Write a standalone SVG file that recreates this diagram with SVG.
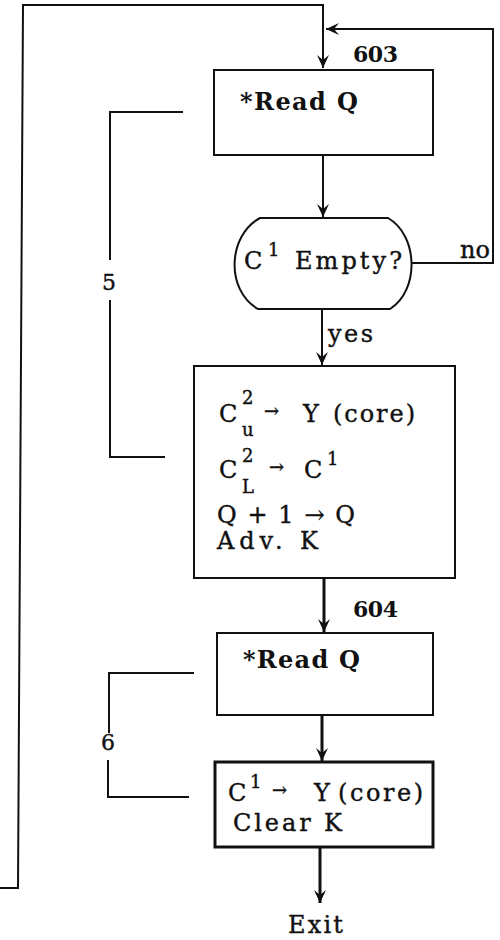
<svg xmlns="http://www.w3.org/2000/svg" width="500" height="940" viewBox="0 0 500 940">
<style>
  .ln{fill:none;stroke:#111;stroke-width:2;stroke-linejoin:miter}
  .thk{stroke-width:3}
  .box{fill:#fff;stroke:#111;stroke-width:2}
  .t{font-family:"DejaVu Serif","Liberation Serif",serif;font-size:24px;fill:#111;stroke:#111;stroke-width:0.4}
  .b{font-weight:bold;stroke-width:0}
  .s{font-size:18px}
  .ar{font-size:18px}
</style>
<defs>
  <marker id="ah" viewBox="-14 -7 15 14" refX="0" refY="0" markerWidth="15" markerHeight="14" markerUnits="userSpaceOnUse" orient="auto">
    <path d="M0,0 L-13,-6 L-8,0 L-13,6 Z" fill="#111"/>
  </marker>
</defs>
<rect width="500" height="940" fill="#fff"/>
<g id="connectors">
  <polyline class="ln" points="0,888 18,888 23,5 323,5 323,68" marker-end="url(#ah)"/>
  <polyline class="ln" points="412,263 493,263 493,29 326,29" marker-end="url(#ah)"/>
  <line class="ln" x1="323" y1="155" x2="323" y2="217" marker-end="url(#ah)"/>
  <line class="ln" x1="322" y1="309" x2="322" y2="365" marker-end="url(#ah)"/>
  <line class="ln thk" x1="324" y1="578" x2="324" y2="632" marker-end="url(#ah)"/>
  <line class="ln thk" x1="322" y1="715" x2="322" y2="761" marker-end="url(#ah)"/>
  <line class="ln thk" x1="320" y1="847" x2="320" y2="903" marker-end="url(#ah)"/>
  <path class="ln" d="M183,112 H110 V260 M110,300 V457 H165"/>
  <path class="ln" d="M194,673 H109 V733 M108,760 V797 H189"/>
  <text class="t b" x="353" y="62" textLength="45" style="font-size:22px">603</text>
  <text class="t" x="460" y="258" textLength="30">no</text>
  <text class="t" x="328" y="342" textLength="45">yes</text>
  <text class="t b" x="353" y="617" textLength="45" style="font-size:22px">604</text>
  <text class="t" x="102" y="290" style="font-size:22px">5</text>
  <text class="t" x="101" y="750" style="font-size:22px">6</text>
</g>
<g id="read1">
  <rect class="box" x="214" y="70" width="219" height="85"/>
  <text class="t b" x="240" y="110" textLength="118">*Read Q</text>
</g>
<g id="decision">
  <path class="box" d="M260,218 L388,218 C418,235 420,290 390,309 L258,309 C225,290 228,235 260,218 Z"/>
  <text class="t" x="244" y="269">C</text>
  <text class="t s" x="268" y="256">1</text>
  <text class="t" x="295" y="269" textLength="107">Empty?</text>
</g>
<g id="process1">
  <rect class="box" x="194" y="366" width="261" height="212"/>
  <text class="t" x="219" y="422">C</text>
  <text class="t s" x="242" y="404">2</text>
  <text class="t s" x="242" y="436">u</text>
  <text class="t ar" x="264" y="417">→</text>
  <text class="t" x="303" y="422">Y</text>
  <text class="t" x="333" y="422" textLength="82">(core)</text>
  <text class="t" x="219" y="478">C</text>
  <text class="t s" x="242" y="462">2</text>
  <text class="t s" x="242" y="493">L</text>
  <text class="t ar" x="269" y="473">→</text>
  <text class="t" x="304" y="478">C</text>
  <text class="t s" x="327" y="465">1</text>
  <text class="t" x="217" y="523" textLength="138">Q + 1 → Q</text>
  <text class="t" x="217" y="549" textLength="101">Adv.  K</text>
</g>
<g id="read2">
  <rect class="box" x="217" y="633" width="216" height="82"/>
  <text class="t b" x="243" y="668" textLength="117">*Read Q</text>
</g>
<g id="process2">
  <rect class="box" x="215" y="762" width="218" height="85" style="stroke-width:3"/>
  <text class="t" x="228" y="801">C</text>
  <text class="t s" x="250" y="788">1</text>
  <text class="t ar" x="272" y="796">→</text>
  <text class="t" x="314" y="801">Y</text>
  <text class="t" x="338" y="801" textLength="85">(core)</text>
  <text class="t" x="233" y="831" textLength="109">Clear K</text>
</g>
<g id="exit">
  <text class="t" x="288" y="933" textLength="55">Exit</text>
</g>
</svg>
